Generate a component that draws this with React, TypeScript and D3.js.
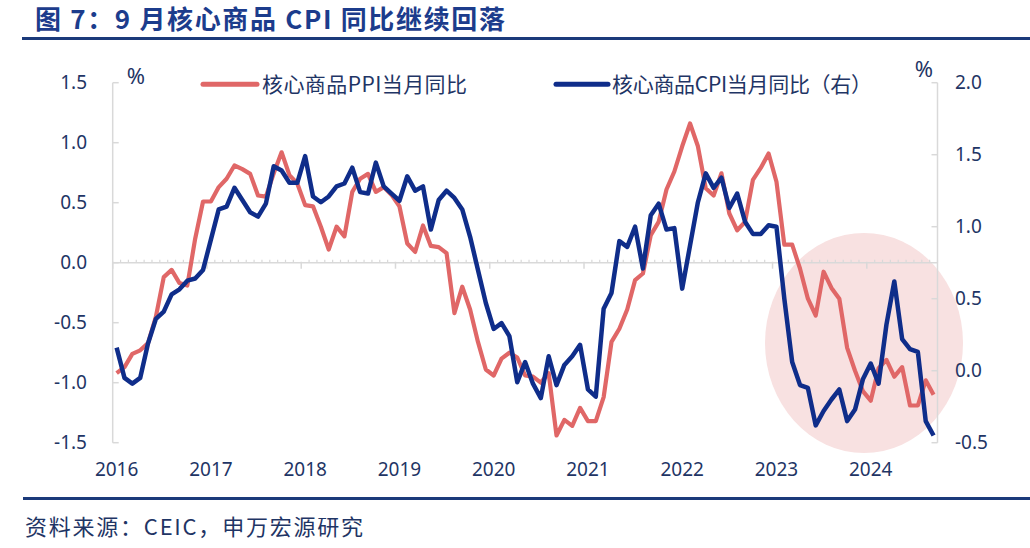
import React from "react";
import * as d3 from "d3";

const yearLabels = ["2016", "2017", "2018", "2019", "2020", "2021", "2022", "2023", "2024"];
const leftTicks = [-1.5, -1.0, -0.5, 0.0, 0.5, 1.0, 1.5];
const rightTicks = [-0.5, 0.0, 0.5, 1.0, 1.5, 2.0];

// 核心商品PPI当月同比 (left axis), Jan 2016 – Sep 2024
const ppi = [
  -0.92, -0.87, -0.76, -0.73, -0.67, -0.45, -0.12, -0.06, -0.17, -0.19, 0.20, 0.51,
  0.51, 0.63, 0.70, 0.81, 0.78, 0.74, 0.56, 0.55, 0.745, 0.92, 0.73, 0.66,
  0.48, 0.47, 0.30, 0.11, 0.30, 0.22, 0.59, 0.70, 0.74, 0.59, 0.63, 0.565,
  0.47, 0.16, 0.09, 0.31, 0.14, 0.13, 0.08, -0.42, -0.20, -0.39, -0.66, -0.89,
  -0.94, -0.80, -0.75, -0.79, -0.94, -0.95, -1.0, -0.92, -1.44, -1.31, -1.36, -1.21,
  -1.32, -1.32, -1.12, -0.66, -0.55, -0.39, -0.145, -0.09, 0.23, 0.34, 0.61, 0.76,
  0.97, 1.16, 0.97, 0.62, 0.56, 0.745, 0.41, 0.27, 0.34, 0.69, 0.79, 0.91,
  0.675, 0.15, 0.15, -0.05, -0.30, -0.44, -0.075, -0.21, -0.30, -0.71, -0.90, -1.07,
  -1.15, -0.88, -0.81, -0.95, -0.87, -1.19, -1.19, -0.98, -1.10,
];

// 核心商品CPI当月同比 (right axis), Jan 2016 – Sep 2024
const cpi = [
  0.16, -0.05, -0.09, -0.05, 0.19, 0.36, 0.41, 0.53, 0.565, 0.625, 0.64, 0.70,
  0.91, 1.12, 1.14, 1.27, 1.185, 1.10, 1.07, 1.16, 1.42, 1.39, 1.305, 1.305,
  1.49, 1.21, 1.17, 1.21, 1.28, 1.30, 1.41, 1.24, 1.23, 1.445, 1.28, 1.23,
  1.18, 1.35, 1.25, 1.28, 0.98, 1.185, 1.25, 1.20, 1.12, 0.93, 0.70, 0.47,
  0.29, 0.33, 0.24, -0.08, 0.06, -0.09, -0.19, 0.10, -0.10, 0.04, 0.10, 0.18,
  -0.13, -0.18, 0.43, 0.54, 0.90, 0.86, 1.00, 0.71, 1.08, 1.16, 0.98, 0.99,
  0.57, 0.87, 1.17, 1.37, 1.27, 1.34, 1.13, 1.23, 1.035, 0.95, 0.95, 1.01,
  1.00, 0.50, 0.06, -0.10, -0.12, -0.38, -0.28, -0.20, -0.13, -0.35, -0.27, -0.06,
  0.05, -0.09, 0.32, 0.62, 0.22, 0.15, 0.13, -0.35, -0.45,
];

const TEXT = "#1f3565";
const TITLE = "#1c3c8c";
const RULE = "#1b3a7a";
const RED = "#e06767";
const BLUE = "#0f2d8a";
const AXIS = "#d9d9d9";
const NUM_FONT = "'Noto Sans', 'Noto Sans CJK SC', sans-serif";
const CJK_FONT = "'Noto Sans CJK SC', 'Noto Sans', sans-serif";

export default function App() {
  const W = 1030;
  const H = 548;
  const left = 112.7;
  const right = 937.5;
  const top = 82.7;
  const bottom = 442.7;
  const n = ppi.length;
  const idx = d3.range(n);

  const xBand = d3.scaleBand<number>().domain(idx).range([left, right]).padding(0);
  const bw = xBand.bandwidth();
  const xc = (i: number) => (xBand(i) as number) + bw / 2;
  const yL = d3.scaleLinear().domain([-1.5, 1.5]).range([bottom, top]);
  const yR = d3.scaleLinear().domain([-0.5, 2.0]).range([bottom, top]);

  const lineL = d3.line<number>().x((_, i) => xc(i)).y((d) => yL(d));
  const lineR = d3.line<number>().x((_, i) => xc(i)).y((d) => yR(d));

  const y0 = yL(0);
  const monthTicks = d3.range(n + 1);

  return (
    <svg
      width={W}
      height={H}
      style={{ position: "absolute", left: 0, top: 0, background: "#fff" }}
    >
      {/* Title */}
      <text
        x={35}
        y={29}
        fontFamily={CJK_FONT}
        fontWeight="bold"
        fontSize={26}
        fill={TITLE}
        textLength={470}
        lengthAdjust="spacing"
      >
        图 7：9 月核心商品 CPI 同比继续回落
      </text>
      <line x1={22} x2={1030} y1={38.5} y2={38.5} stroke={RULE} strokeWidth={3} />

      {/* highlight ellipse */}
      <ellipse cx={864} cy={343} rx={99} ry={110} fill="#f8e1e1" />

      {/* zero line with month ticks */}
      <line x1={left} x2={right} y1={y0} y2={y0} stroke={AXIS} strokeWidth={1.5} />
      {monthTicks.map((m) => {
        const x = left + m * bw;
        const major = m % 12 === 0;
        return major ? (
          <line key={m} x1={x} x2={x} y1={y0 - 1} y2={y0 + 6} stroke={AXIS} strokeWidth={1.5} />
        ) : (
          <line key={m} x1={x} x2={x} y1={y0 - 3} y2={y0} stroke={AXIS} strokeWidth={1.2} />
        );
      })}

      {/* left axis */}
      <line x1={left} x2={left} y1={top} y2={bottom} stroke={AXIS} strokeWidth={1.5} />
      {leftTicks.map((t) => (
        <g key={"l" + t}>
          <line x1={left} x2={left + 6} y1={yL(t)} y2={yL(t)} stroke={AXIS} strokeWidth={1.5} />
          <text
            x={87}
            y={yL(t)}
            dy="0.35em"
            textAnchor="end"
            fontFamily={NUM_FONT}
            fontSize={19}
            fill={TEXT}
          >
            {d3.format(".1f")(t).replace("−", "-")}
          </text>
        </g>
      ))}
      <text x={136} y={76} dy="0.35em" textAnchor="middle" fontFamily={NUM_FONT} fontSize={22} fill={TEXT}>
        %
      </text>

      {/* right axis */}
      <line x1={right} x2={right} y1={top} y2={bottom} stroke={AXIS} strokeWidth={1.5} />
      {rightTicks.map((t) => (
        <g key={"r" + t}>
          <line x1={right - 6} x2={right} y1={yR(t)} y2={yR(t)} stroke={AXIS} strokeWidth={1.5} />
          <text
            x={955}
            y={yR(t)}
            dy="0.35em"
            textAnchor="start"
            fontFamily={NUM_FONT}
            fontSize={19}
            fill={TEXT}
          >
            {d3.format(".1f")(t).replace("−", "-")}
          </text>
        </g>
      ))}
      <text x={924} y={69} dy="0.35em" textAnchor="middle" fontFamily={NUM_FONT} fontSize={22} fill={TEXT}>
        %
      </text>

      {/* year labels */}
      {yearLabels.map((yl, k) => (
        <text
          key={yl}
          x={xc(k * 12)}
          y={469}
          dy="0.35em"
          textAnchor="middle"
          fontFamily={NUM_FONT}
          fontSize={19}
          fill={TEXT}
        >
          {yl}
        </text>
      ))}

      {/* series */}
      <path d={lineL(ppi) || ""} fill="none" stroke={RED} strokeWidth={4.2} strokeLinejoin="round" />
      <path d={lineR(cpi) || ""} fill="none" stroke={BLUE} strokeWidth={4.5} strokeLinejoin="round" />

      {/* legend */}
      <line x1={203} x2={257} y1={84.3} y2={84.3} stroke={RED} strokeWidth={5} strokeLinecap="round" />
      <text
        x={262}
        y={84.3}
        dy="0.36em"
        fontFamily={CJK_FONT}
        fontSize={21}
        fill={TEXT}
        textLength={205}
        lengthAdjust="spacing"
      >
        核心商品PPI当月同比
      </text>
      <line x1={556} x2={608} y1={84.3} y2={84.3} stroke={BLUE} strokeWidth={5} strokeLinecap="round" />
      <text
        x={612}
        y={84.3}
        dy="0.36em"
        fontFamily={CJK_FONT}
        fontSize={21}
        fill={TEXT}
        textLength={260}
        lengthAdjust="spacing"
      >
        核心商品CPI当月同比（右）
      </text>

      {/* footer */}
      <line x1={23} x2={1030} y1={498.5} y2={498.5} stroke={RULE} strokeWidth={3} />
      <text
        x={25}
        y={527}
        dy="0.36em"
        fontFamily={CJK_FONT}
        fontSize={22}
        fill={TEXT}
        textLength={338}
        lengthAdjust="spacing"
      >
        资料来源：CEIC，申万宏源研究
      </text>
    </svg>
  );
}
